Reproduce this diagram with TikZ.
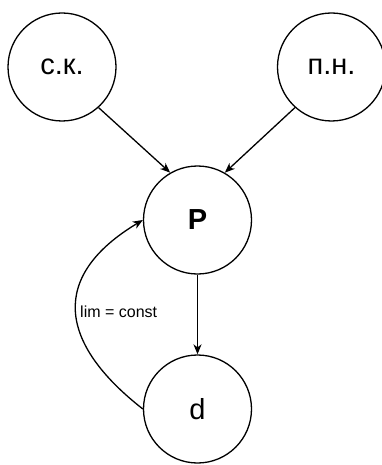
\documentclass[tikz,border=0pt]{standalone}
\usepackage{fontspec}
\setmainfont{Liberation Sans}
\usetikzlibrary{arrows.meta}
\begin{document}
\begin{tikzpicture}[x=1pt,y=1pt,
  state/.style={circle, draw, line width=1.3pt, minimum size=108pt, inner sep=0pt, font=\fontsize{29}{33}\selectfont},
  link/.style={line width=1.3pt, -{Stealth[length=10pt,width=8pt,inset=3pt]}},
  tag/.style={font=\fontsize{16}{19}\selectfont, inner sep=0pt}]
  \useasboundingbox (0,0) rectangle (381,-465);
  \node[state] (ck) at (62,-67) {с.к.};
  \node[state] (pn) at (331.5,-67) {п.н.};
  \node[state, font=\fontsize{29}{33}\selectfont\bfseries] (P) at (197.5,-220) {P};
  \node[state] (d) at (197.5,-409) {d};
  \draw[link] (ck.-48) -- (P.120);
  \draw[link] (pn.228) -- (P.60);
  \draw[link] (P) -- (d);
  \draw[link] (d.west) to[out=142, in=211, looseness=1.47] (P.west);
  \node[tag, anchor=west] (lim) at (80,-312) {lim = const};
\end{tikzpicture}
\end{document}
